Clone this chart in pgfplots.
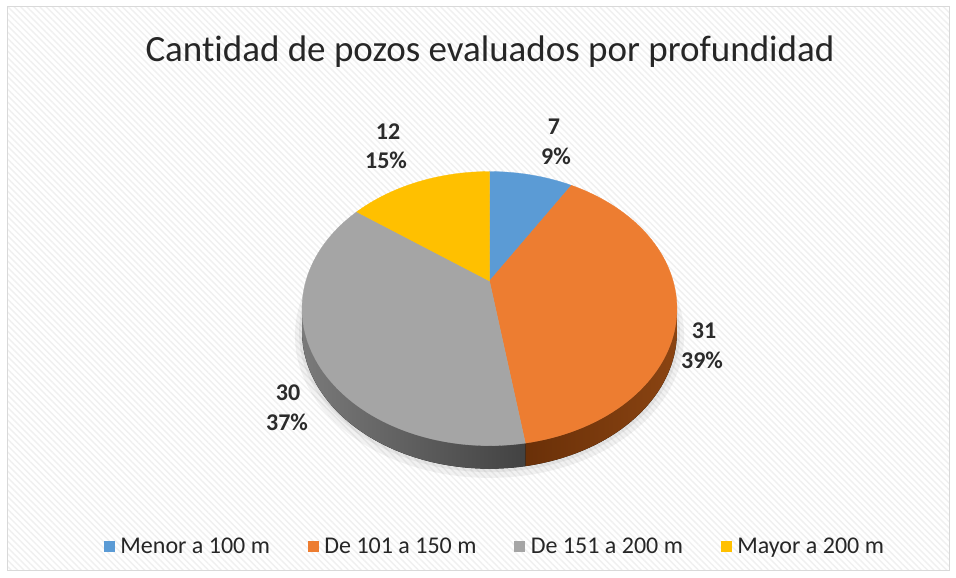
\documentclass[border=0pt]{standalone}
\usepackage{fontspec}
\setmainfont{Carlito}[Ligatures=NoCommon]
\usepackage{pgfplots}
\pgfplotsset{compat=1.18}
\usepackage{pgfplotstable}
\usepgfplotslibrary{fillbetween}
\usetikzlibrary{patterns.meta}

\definecolor{cBlue}{HTML}{5B9BD5}
\definecolor{cOrange}{HTML}{ED7D31}
\definecolor{cGray}{HTML}{A5A5A5}
\definecolor{cYellow}{HTML}{FFC000}
\definecolor{cOrangeSideL}{HTML}{6A3008}
\definecolor{cOrangeSideR}{HTML}{8A4412}
\definecolor{cGraySideL}{HTML}{7A7A7A}
\definecolor{cGraySideR}{HTML}{424242}
\definecolor{txt}{HTML}{262626}
\definecolor{lbl}{HTML}{2B2B2B}
\definecolor{frame}{HTML}{D9D9D9}

\pgfplotstableread{
cat value
1 7
2 31
3 30
4 12
}\piedata

\begin{document}%
\begin{tikzpicture}
\pgfplotstablegetelem{0}{value}\of\piedata\edef\va{\pgfplotsretval}
\pgfplotstablegetelem{1}{value}\of\piedata\edef\vb{\pgfplotsretval}
\pgfplotstablegetelem{2}{value}\of\piedata\edef\vc{\pgfplotsretval}
\pgfplotstablegetelem{3}{value}\of\piedata\edef\vd{\pgfplotsretval}
\pgfmathsetmacro\total{\va+\vb+\vc+\vd}
\pgfmathsetmacro\ta{360*\va/\total}
\pgfmathsetmacro\tb{\ta+360*\vb/\total}
\pgfmathsetmacro\tc{\tb+360*\vc/\total}
\def\cx{489.5}\def\cy{297}\def\A{183.6}\def\B{131.5}\def\k{0.2015}\def\dep{23}
\pgfmathsetmacro\thR{acos(-\k)}
\pgfmathsetmacro\thL{360-\thR}
\begin{axis}[
  set layers,
  width=956pt, height=578pt, scale only axis,
  xmin=0, xmax=956, ymin=0, ymax=578,
  hide axis, clip=false,
  legend style={at={(axis cs:495,32)}, anchor=center, draw=none, fill=none,
    font=\fontsize{24}{28}\selectfont, text=txt,
    /tikz/every even column/.append style={column sep=36pt}},
  legend columns=4, legend cell align=left,
]
% background
\begin{pgfonlayer}{axis background}
\fill[white] (0,0) rectangle (956,578);
\fill[pattern={Lines[angle=-45,distance=4.5pt,line width=1.4pt]}, pattern color=black!6] (7,7) rectangle (949,571);
\draw[frame, line width=1pt] (7,7) rectangle (949,571);
\end{pgfonlayer}

% soft shadow
\addplot[forget plot, on layer=axis background, draw=none, fill=black, fill opacity=0.05, domain=0:360, samples=120]
  ({\cx+(\A+7)*sin(x)/(1+\k*cos(x))},{\cy-\dep-3+(\B+5)*cos(x)/(1+\k*cos(x))});
\addplot[forget plot, on layer=axis background, draw=none, fill=black, fill opacity=0.05, domain=0:360, samples=120]
  ({\cx+(\A+3)*sin(x)/(1+\k*cos(x))},{\cy-\dep-1+(\B+2)*cos(x)/(1+\k*cos(x))});

% sides
\addplot[forget plot, draw=none, name path=oT, domain=\thR:\tb, samples=60]
  ({\cx+\A*sin(x)/(1+\k*cos(x))},{\cy+\B*cos(x)/(1+\k*cos(x))});
\addplot[forget plot, draw=none, name path=oB, domain=\thR:\tb, samples=60]
  ({\cx+\A*sin(x)/(1+\k*cos(x))},{\cy-\dep+\B*cos(x)/(1+\k*cos(x))});
\addplot[forget plot, left color=cOrangeSideL, right color=cOrangeSideR, draw=none] fill between[of=oT and oB];
\addplot[forget plot, draw=none, name path=gT, domain=\tb:\thL, samples=60]
  ({\cx+\A*sin(x)/(1+\k*cos(x))},{\cy+\B*cos(x)/(1+\k*cos(x))});
\addplot[forget plot, draw=none, name path=gB, domain=\tb:\thL, samples=60]
  ({\cx+\A*sin(x)/(1+\k*cos(x))},{\cy-\dep+\B*cos(x)/(1+\k*cos(x))});
\addplot[forget plot, left color=cGraySideL, right color=cGraySideR, draw=none] fill between[of=gT and gB];

% top faces
\addplot[forget plot, fill=cBlue, draw=cBlue, line width=0.3pt, domain=0:\ta, samples=30]
  ({\cx+\A*sin(x)/(1+\k*cos(x))},{\cy+\B*cos(x)/(1+\k*cos(x))}) -- (\cx,\cy) -- cycle;
\addplot[forget plot, fill=cOrange, draw=cOrange, line width=0.3pt, domain=\ta:\tb, samples=80]
  ({\cx+\A*sin(x)/(1+\k*cos(x))},{\cy+\B*cos(x)/(1+\k*cos(x))}) -- (\cx,\cy) -- cycle;
\addplot[forget plot, fill=cGray, draw=cGray, line width=0.3pt, domain=\tb:\tc, samples=80]
  ({\cx+\A*sin(x)/(1+\k*cos(x))},{\cy+\B*cos(x)/(1+\k*cos(x))}) -- (\cx,\cy) -- cycle;
\addplot[forget plot, fill=cYellow, draw=cYellow, line width=0.3pt, domain=\tc:360, samples=40]
  ({\cx+\A*sin(x)/(1+\k*cos(x))},{\cy+\B*cos(x)/(1+\k*cos(x))}) -- (\cx,\cy) -- cycle;

% data labels
\tikzset{dl/.style={font=\bfseries\fontsize{24}{28}\selectfont, text=lbl, anchor=base}}
\node[dl] at (554,443) {7};
\node[dl] at (556,413) {9\%};
\node[dl] at (388,438) {12};
\node[dl] at (386,409) {15\%};
\node[dl] at (704,239) {31};
\node[dl] at (702,209) {39\%};
\node[dl] at (288,177) {30};
\node[dl] at (287,147) {37\%};

% title
\node[font=\fontsize{37}{42}\selectfont, text=txt] at (490,526) {Cantidad de pozos evaluados por profundidad};

% legend
\addlegendimage{legend image code/.code={\fill[cBlue] (0pt,-5pt) rectangle (10pt,5pt); \path (14pt,0pt);}}
\addlegendentry{Menor a 100 m}
\addlegendimage{legend image code/.code={\fill[cOrange] (0pt,-5pt) rectangle (10pt,5pt); \path (14pt,0pt);}}
\addlegendentry{De 101 a 150 m}
\addlegendimage{legend image code/.code={\fill[cGray] (0pt,-5pt) rectangle (10pt,5pt); \path (14pt,0pt);}}
\addlegendentry{De 151 a 200 m}
\addlegendimage{legend image code/.code={\fill[cYellow] (0pt,-5pt) rectangle (10pt,5pt); \path (14pt,0pt);}}
\addlegendentry{Mayor a 200 m}
\end{axis}
\pgfresetboundingbox
\path[use as bounding box] (current axis.south west) rectangle (current axis.north east);
\end{tikzpicture}%
\end{document}
